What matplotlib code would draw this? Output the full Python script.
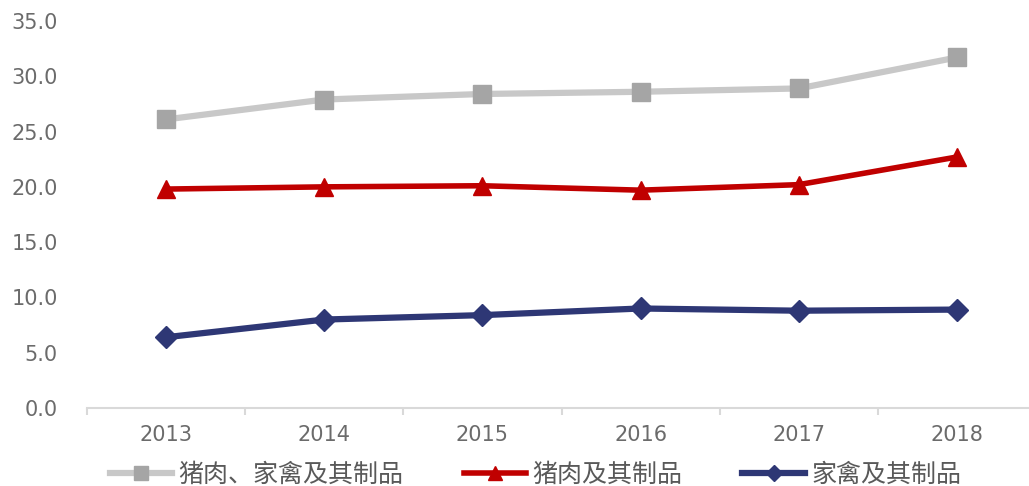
import matplotlib.pyplot as plt
import numpy as np

plt.rcParams["font.family"] = ["DejaVu Sans", "Noto Sans CJK SC"]

years = ["2013", "2014", "2015", "2016", "2017", "2018"]
pork_poultry = [26.1, 27.9, 28.4, 28.6, 28.9, 31.7]
pork = [19.8, 20.0, 20.1, 19.7, 20.2, 22.7]
poultry = [6.4, 8.0, 8.4, 9.0, 8.8, 8.9]

labels = ["猪肉、家禽及其制品", "猪肉及其制品", "家禽及其制品"]

fig = plt.figure(figsize=(10.29, 4.86), dpi=100)
ax = fig.add_axes([87 / 1029, 78 / 486, 949 / 1029, 387 / 486])

x = np.arange(len(years))
ax.plot(x, pork_poultry, color="#C8C8C8", lw=4.5, marker="s", ms=13,
        mfc="#A5A5A5", mec="#A5A5A5", label=labels[0])
ax.plot(x, pork, color="#C00000", lw=4, marker="^", ms=13,
        mfc="#C00000", mec="#C00000", label=labels[1])
ax.plot(x, poultry, color="#2E3775", lw=4.5, marker="D", ms=11,
        mfc="#2E3775", mec="#2E3775", label=labels[2])

ax.set_xlim(-0.5, len(years) - 0.5)
ax.set_ylim(0, 35)
yt = np.arange(0, 35.1, 5)
ax.set_yticks(yt)
ax.set_yticklabels([f"{v:.1f}" for v in yt])
ax.set_xticks(x)
ax.set_xticklabels(years)
ax.set_xticks(np.arange(-0.5, len(years), 1), minor=True)

for side in ["left", "right", "top"]:
    ax.spines[side].set_visible(False)
ax.spines["bottom"].set_color("#D9D9D9")
ax.spines["bottom"].set_linewidth(1.5)

ax.tick_params(axis="y", length=0, labelsize=15, labelcolor="#6B6B6B", pad=21)
ax.tick_params(axis="x", which="major", length=0, labelsize=15,
               labelcolor="#6B6B6B", pad=12)
ax.tick_params(axis="x", which="minor", length=5, color="#D9D9D9", width=1.5)

leg = ax.legend(loc="center", bbox_to_anchor=(0.4726, -0.172), ncol=3,
                frameon=False, prop={"family": ["Noto Sans CJK SC"], "size": 18},
                handlelength=2.5, columnspacing=2.4, handletextpad=0.25,
                markerscale=0.75)
for t in leg.get_texts():
    t.set_color("#595959")

fig.savefig("out.png", dpi=100)
